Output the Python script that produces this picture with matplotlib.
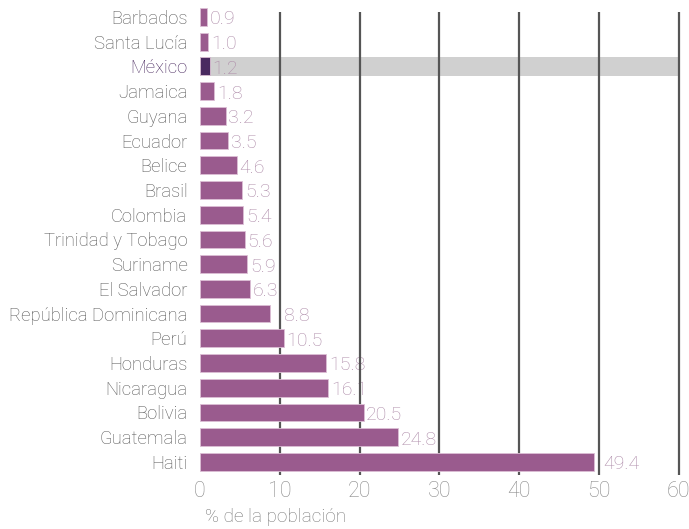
import matplotlib
matplotlib.use("Agg")
import matplotlib.pyplot as plt
from matplotlib import font_manager

countries = ["Barbados", "Santa Lucía", "México", "Jamaica", "Guyana", "Ecuador",
             "Belice", "Brasil", "Colombia", "Trinidad y Tobago", "Suriname",
             "El Salvador", "República Dominicana", "Perú", "Honduras",
             "Nicaragua", "Bolivia", "Guatemala", "Haiti"]
values = [0.9, 1.0, 1.2, 1.8, 3.2, 3.5, 4.6, 5.3, 5.4, 5.6, 5.9, 6.3, 8.8,
          10.5, 15.8, 16.1, 20.5, 24.8, 49.4]
highlight = "México"
xticks = [0, 10, 20, 30, 40, 50, 60]
xlabel = "% de la población"

avail = {f.name for f in font_manager.fontManager.ttflist}
fams = [f for f in ["Liberation Sans Narrow", "Roboto", "DejaVu Sans"] if f in avail]
plt.rcParams["font.family"] = fams

BAR = "#9a5b8e"
DARK = "#4a2a60"
VAL = "#ad8aa8"
LBL = "#555555"
GRID = "#555555"

fig = plt.figure(figsize=(6.89, 5.29), dpi=100)
ax = fig.add_axes([200/689, 1-475/529, (681-200)/689, (475-12)/529])

n = len(countries)
ypos = list(range(n))
colors = [DARK if c == highlight else BAR for c in countries]

hi = countries.index(highlight)
ax.barh([hi], [xticks[-1]], height=0.78, color="#d0d0d0", zorder=0.5, clip_on=False)
ax.barh(ypos, values, height=0.72, color=colors, edgecolor="#dcbfd5",
        linewidth=0.6, zorder=3, clip_on=False)

for y, v in zip(ypos, values):
    x = v + 0.35
    nxt = min([t for t in xticks if t > v], default=None)
    if nxt is not None and nxt - v < 1.5:
        x = nxt + 0.5
    ax.text(x, y + 0.1, f"{v:.1f}", va="center", ha="left", fontsize=14,
            color=VAL, zorder=1, fontweight="light")

ax.set_xlim(0, 60.3)
ax.set_ylim(n - 1 + 0.53, -0.2)
ax.set_yticks(ypos)
ax.set_yticklabels(countries, fontsize=13.3, color=LBL, fontweight="light")
for lab in ax.get_yticklabels():
    if lab.get_text() == highlight:
        lab.set_color(DARK)
ax.set_xticks(xticks)
ax.set_xticklabels([str(t) for t in xticks], fontsize=15.5, color="#8a8a8a",
                   fontweight="light")
ax.tick_params(axis="both", length=0)
ax.tick_params(axis="y", pad=9)
ax.tick_params(axis="x", pad=4)

for t in xticks[1:]:
    ax.axvline(t, color=GRID, linewidth=1.6, zorder=2)

for s in ax.spines.values():
    s.set_visible(False)

fig.text(205/689, 1-517/529, xlabel, fontsize=13.7, color="#777777",
         ha="left", va="center", fontweight="light")

fig.savefig("out.png", dpi=100, facecolor="white")
